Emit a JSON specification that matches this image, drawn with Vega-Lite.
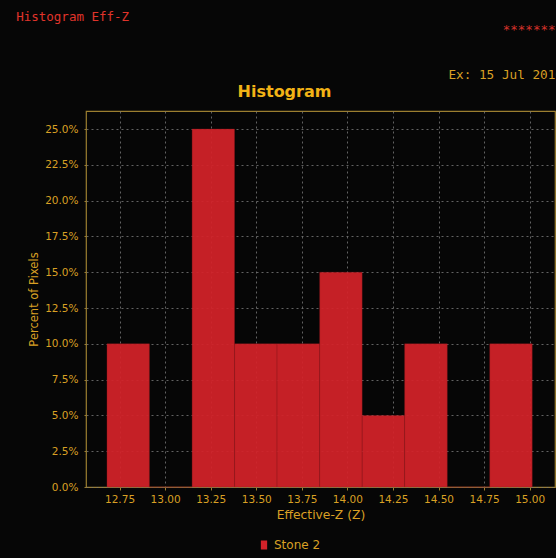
{
  "$schema": "https://vega.github.io/schema/vega-lite/v6.json",
  "width": 469,
  "height": 376,
  "autosize": {"type": "none"},
  "padding": {"left": 86, "top": 111, "right": 1, "bottom": 71},
  "background": "#060606",
  "title": {
    "text": "********",
    "subtitle": "Ex: 15 Jul 2016",
    "anchor": "end",
    "frame": "group",
    "dx": 8,
    "dy": 75,
    "font": "DejaVu Sans Mono",
    "fontSize": 12.5,
    "fontWeight": "normal",
    "color": "#d8322a",
    "subtitleFont": "DejaVu Sans Mono",
    "subtitleFontSize": 12.7,
    "subtitleColor": "#d9a024",
    "subtitlePadding": 33
  },
  "data": {
    "values": [
      {"z_start": 12.681, "z_end": 12.914, "percent": 0.10, "series": "Stone 2"},
      {"z_start": 12.914, "z_end": 13.148, "percent": 0.00, "series": "Stone 2"},
      {"z_start": 13.148, "z_end": 13.381, "percent": 0.25, "series": "Stone 2"},
      {"z_start": 13.381, "z_end": 13.614, "percent": 0.10, "series": "Stone 2"},
      {"z_start": 13.614, "z_end": 13.848, "percent": 0.10, "series": "Stone 2"},
      {"z_start": 13.848, "z_end": 14.081, "percent": 0.15, "series": "Stone 2"},
      {"z_start": 14.081, "z_end": 14.314, "percent": 0.05, "series": "Stone 2"},
      {"z_start": 14.314, "z_end": 14.548, "percent": 0.10, "series": "Stone 2"},
      {"z_start": 14.548, "z_end": 14.781, "percent": 0.00, "series": "Stone 2"},
      {"z_start": 14.781, "z_end": 15.014, "percent": 0.10, "series": "Stone 2"}
    ]
  },
  "config": {
    "view": {"stroke": "#9c7f30", "strokeWidth": 1.2, "fill": "#060606"},
    "axis": {
      "labelColor": "#d9a024",
      "labelFont": "DejaVu Sans",
      "labelFontSize": 10.5,
      "tickColor": "#9c7f30",
      "domain": false,
      "gridColor": "#7a7a7a",
      "gridDash": [2, 3],
      "gridWidth": 0.8,
      "titleColor": "#d9a024",
      "titleFont": "DejaVu Sans",
      "titleFontWeight": "normal"
    }
  },
  "layer": [
    {
      "mark": {"type": "bar", "color": "#c62027", "opacity": 0.93, "stroke": "#8e1a1e", "strokeWidth": 0.6, "strokeOpacity": 0.6},
      "encoding": {
        "x": {
          "field": "z_start",
          "type": "quantitative",
          "scale": {"domain": [12.566, 15.139], "nice": false, "zero": false},
          "axis": {
            "orient": "bottom",
            "values": [12.75, 13.0, 13.25, 13.5, 13.75, 14.0, 14.25, 14.5, 14.75, 15.0],
            "format": ".2f",
            "title": "Effective-Z (Z)",
            "grid": true,
            "tickSize": 3,
            "labelPadding": 4,
            "labelFlush": false,
            "labelOverlap": false,
            "titleFontSize": 12.3,
            "titlePadding": 4
          }
        },
        "x2": {"field": "z_end"},
        "y": {
          "field": "percent",
          "type": "quantitative",
          "stack": null,
          "scale": {"domain": [0, 0.2626], "nice": false},
          "axis": {
            "orient": "left",
            "values": [0, 0.025, 0.05, 0.075, 0.1, 0.125, 0.15, 0.175, 0.2, 0.225, 0.25],
            "format": ".1%",
            "title": "Percent of Pixels",
            "grid": true,
            "tickSize": 2,
            "labelPadding": 6,
            "labelFlush": false,
            "labelOverlap": false,
            "titleFontSize": 11.5,
            "titlePadding": 5
          }
        },
        "y2": {"datum": 0},
        "color": {
          "field": "series",
          "type": "nominal",
          "scale": {"range": ["#d42229"]},
          "legend": {
            "orient": "none",
            "legendX": 172,
            "legendY": 428,
            "title": null,
            "direction": "horizontal",
            "symbolType": "M-0.7,-1L0.7,-1L0.7,1L-0.7,1Z",
            "symbolSize": 81,
            "symbolStrokeWidth": 0,
            "symbolOpacity": 1,
            "symbolFillColor": "#e52a2a",
            "labelColor": "#d9a024",
            "labelFont": "DejaVu Sans",
            "labelFontSize": 12,
            "labelOffset": 4,
            "padding": 0
          }
        }
      }
    },
    {
      "mark": {"type": "bar", "opacity": 0},
      "encoding": {
        "x": {
          "field": "z_start",
          "type": "quantitative",
          "scale": {"domain": [12.566, 15.139], "nice": false, "zero": false},
          "axis": {
            "orient": "top",
            "title": "Histogram",
            "labels": false,
            "ticks": false,
            "domain": false,
            "grid": false,
            "titleX": 198,
            "titleY": -14.3,
            "titleAlign": "center",
            "titleBaseline": "alphabetic",
            "titleAngle": 0,
            "titleFont": "DejaVu Sans",
            "titleFontSize": 16,
            "titleFontWeight": "bold",
            "titleColor": "#f2b316"
          }
        },
        "x2": {"field": "z_end"},
        "y": {
          "field": "percent",
          "type": "quantitative",
          "stack": null,
          "scale": {"domain": [0, 0.2626], "nice": false},
          "axis": {
            "orient": "right",
            "title": "Histogram Eff-Z",
            "labels": false,
            "ticks": false,
            "domain": false,
            "grid": false,
            "titleX": -539.3,
            "titleY": -90.3,
            "titleAlign": "left",
            "titleBaseline": "alphabetic",
            "titleAngle": 0,
            "titleFont": "DejaVu Sans Mono",
            "titleFontSize": 12.5,
            "titleColor": "#e0342b"
          }
        },
        "y2": {"datum": 0}
      }
    }
  ],
  "resolve": {"axis": {"x": "independent", "y": "independent"}}
}
